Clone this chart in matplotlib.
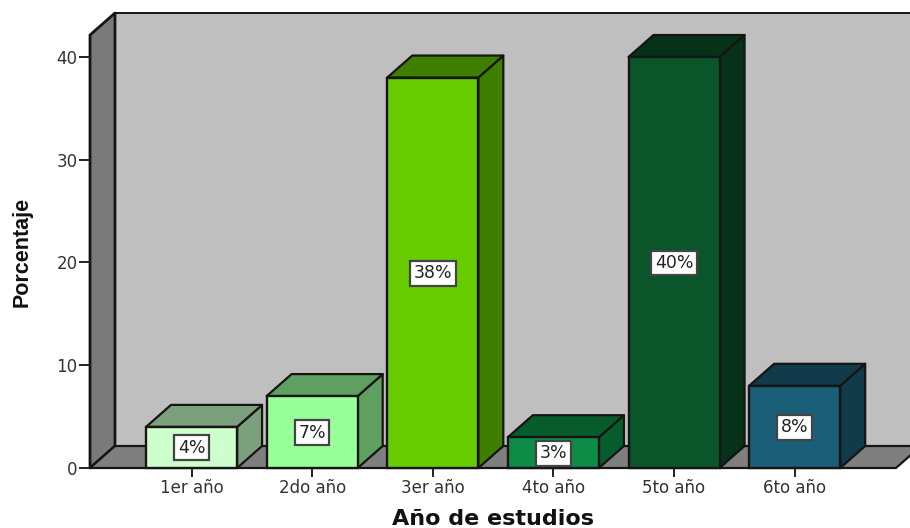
import matplotlib
matplotlib.use("Agg")

import matplotlib.pyplot as plt
from matplotlib.patches import Polygon

categories = ["1er año", "2do año", "3er año", "4to año", "5to año", "6to año"]
values = [4, 7, 38, 3, 40, 8]
labels = ["4%", "7%", "38%", "3%", "40%", "8%"]
y_ticks = [0, 10, 20, 30, 40]

front_colors = ["#CCFFCC", "#99FF99", "#66CC00", "#0C8C46", "#0B552B", "#1B5E78"]
side_colors = ["#7C9F7C", "#5F9F5F", "#3F7F00", "#075C2C", "#06321A", "#113A4A"]

# 3d look: depth of the box in data units
DX = 0.207
DY = 2.14
BAR_W = 0.755
X_MIN, X_MAX = -0.842, 5.84
Y_TOP = 42.14

fig = plt.figure(figsize=(9.10, 5.28), dpi=100)
ax = fig.add_axes([90 / 910, 60 / 528, 806 / 910, 433 / 528])
ax.set_xlim(X_MIN, X_MAX)
ax.set_ylim(0, Y_TOP)


def poly(points, color, z, lw=1.6):
    ax.add_patch(Polygon(points, closed=True, facecolor=color, edgecolor="#151515",
                         linewidth=lw, joinstyle="round", clip_on=False, zorder=z))


# walls and floor
poly([(X_MIN + DX, DY), (X_MAX + DX, DY), (X_MAX + DX, Y_TOP + DY), (X_MIN + DX, Y_TOP + DY)], "#BFBFBF", 1, lw=1.4)
poly([(X_MIN, 0), (X_MIN + DX, DY), (X_MIN + DX, Y_TOP + DY), (X_MIN, Y_TOP)], "#7A7A7A", 1.2, lw=2)
poly([(X_MIN, 0), (X_MAX, 0), (X_MAX + DX, DY), (X_MIN + DX, DY)], "#7F7F7F", 1.4)

# bars
for i, v in enumerate(values):
    x0, x1 = i - BAR_W / 2, i + BAR_W / 2
    poly([(x1, 0), (x1 + DX, DY), (x1 + DX, v + DY), (x1, v)], side_colors[i], 2 + i / 10)
    poly([(x0, v), (x1, v), (x1 + DX, v + DY), (x0 + DX, v + DY)], side_colors[i], 2 + i / 10)
    ax.bar(i, v, width=BAR_W, color=front_colors[i], edgecolor="#151515", linewidth=1.7,
           zorder=3 + i / 10, clip_on=False)
    ax.text(i, v / 2 - 0.05, labels[i], ha="center", va="center", fontsize=12.5,
            family="DejaVu Sans", color="#222222", zorder=5,
            bbox=dict(boxstyle="square,pad=0.2", facecolor="white", edgecolor="#444444", linewidth=1.6))

for s in ["top", "right", "left", "bottom"]:
    ax.spines[s].set_visible(False)

ax.set_xticks(range(len(categories)))
ax.set_xticklabels(categories, fontsize=12, family="DejaVu Sans", color="#333333")
ax.set_yticks(y_ticks)
ax.set_yticklabels([str(t) for t in y_ticks], fontsize=12, family="DejaVu Sans", color="#333333")
ax.tick_params(axis="x", length=6.5, width=1.4, color="#222222", pad=1.5)
ax.tick_params(axis="y", length=8, width=1.4, color="#222222", pad=1)

fig.text(493 / 910, 1 - 519 / 528, "Año de estudios", ha="center", va="center", fontsize=16,
         fontweight="bold", family="DejaVu Sans", color="#111111")
fig.text(22 / 910, 1 - 252 / 528, "Porcentaje", rotation=90, ha="center", va="center", fontsize=15.5,
         fontweight="bold", family=["Liberation Sans Narrow", "Liberation Sans"], color="#111111")

fig.savefig("out.png", dpi=100, facecolor="white")
